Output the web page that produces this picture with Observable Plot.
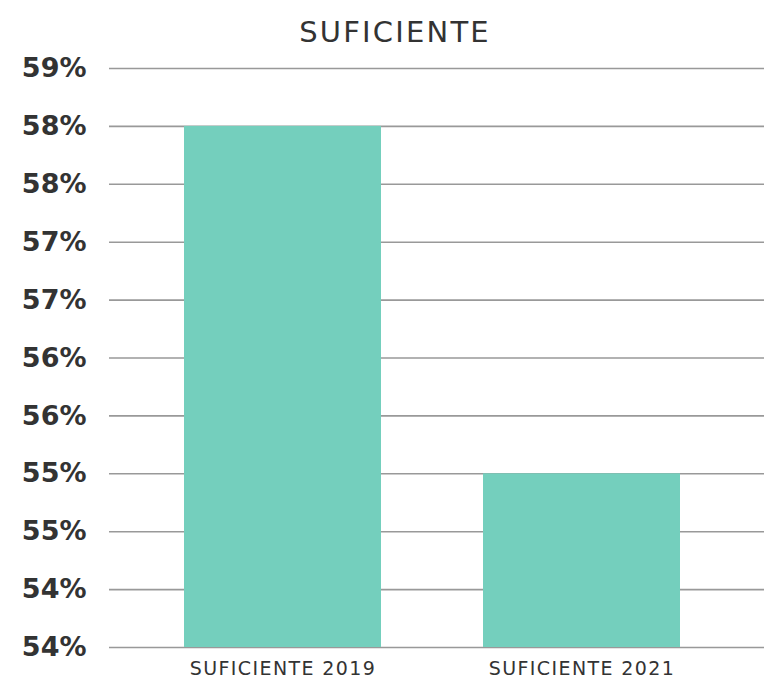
<!DOCTYPE html>
<html>
<head>
<meta charset="utf-8">
<script src="https://cdn.jsdelivr.net/npm/d3@7"></script>
<script src="https://cdn.jsdelivr.net/npm/@observablehq/plot@0.6"></script>
<style>
  html, body { margin: 0; padding: 0; background: #fff; }
  #wrap { position: relative; width: 764px; height: 680px; overflow: hidden; }
  #title { position: absolute; left: 0; top: 14px; width: 790px; text-align: center;
           font-family: "DejaVu Sans", sans-serif; font-size: 29px; color: #333;
           letter-spacing: 2.2px; line-height: 36px; }
  svg [aria-label="x-axis tick label"] text { letter-spacing: 1.4px; }
</style>
</head>
<body>
<div id="wrap">
  <div id="title">SUFICIENTE</div>
  <div id="chart"></div>
</div>
<script>
const categories = ["SUFICIENTE 2019", "SUFICIENTE 2021"];
const values = [58.5, 55.5];
const yTicks = [54, 54.5, 55, 55.5, 56, 56.5, 57, 57.5, 58, 58.5, 59];
const yTickLabels = ["54%", "54%", "55%", "55%", "56%", "56%", "57%", "57%", "58%", "58%", "59%"];
const baseline = 54;

const data = categories.map((c, i) => ({category: c, value: values[i]}));

const chart = Plot.plot({
  width: 764,
  height: 680,
  marginTop: 68,
  marginBottom: 33,
  marginLeft: 109,
  marginRight: 0,
  style: {fontFamily: "DejaVu Sans, sans-serif", background: "#fff"},
  x: {domain: categories, paddingInner: 0.34, paddingOuter: 0.265, align: 0.475},
  y: {domain: [54, 59]},
  marks: [
    Plot.ruleY(yTicks, {stroke: "#999", strokeWidth: 1.6}),
    Plot.barY(data, {x: "category", y1: () => baseline, y2: "value", fill: "#74cfbd"}),
    Plot.axisY({
      ticks: yTicks,
      tickFormat: (d) => yTickLabels[yTicks.indexOf(d)],
      tickSize: 0, tickPadding: 23,
      fontSize: 27, fontWeight: "bold", fill: "#333", label: null
    }),
    Plot.axisX({
      tickSize: 0, tickPadding: 14,
      fontSize: 19, fill: "#333", label: null
    })
  ]
});
document.getElementById("chart").appendChild(chart);
</script>
</body>
</html>
